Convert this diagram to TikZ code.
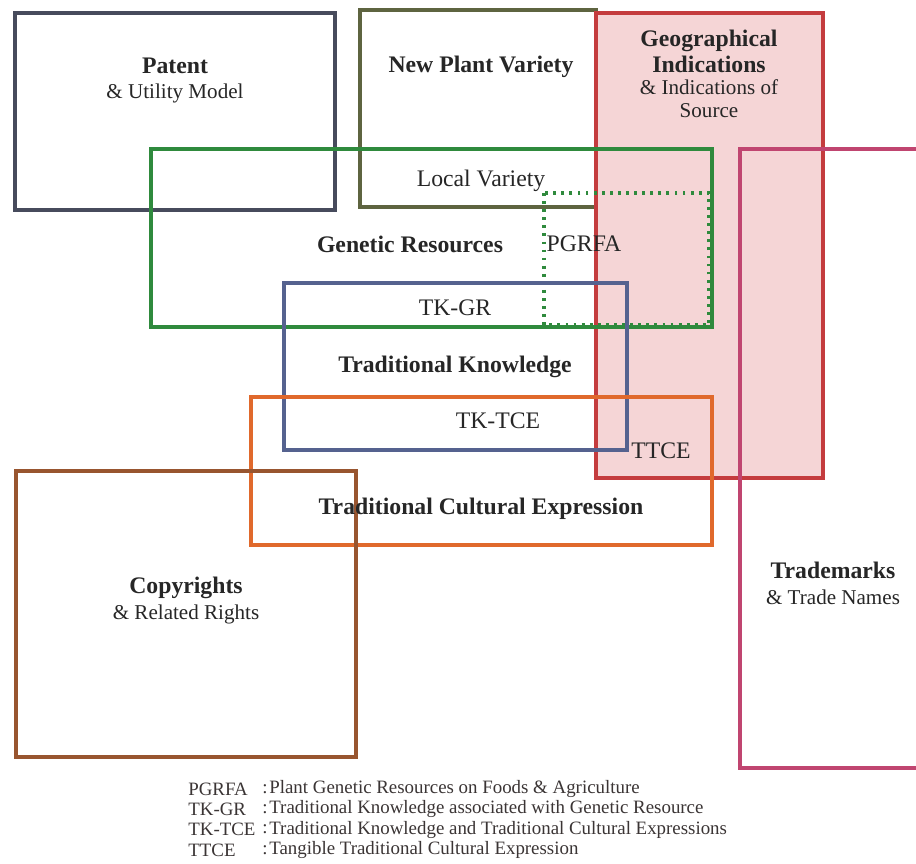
\documentclass[tikz,border=0pt]{standalone}
\usepackage{fontspec}
\setmainfont{Liberation Serif}
\definecolor{patentc}{HTML}{474B5C}
\definecolor{plantc}{HTML}{5E6440}
\definecolor{gic}{HTML}{C43C3E}
\definecolor{gifill}{HTML}{F5D5D6}
\definecolor{grc}{HTML}{2F8A3D}
\definecolor{tkc}{HTML}{55628F}
\definecolor{tcec}{HTML}{E0692C}
\definecolor{copyc}{HTML}{98552F}
\definecolor{trademc}{HTML}{C04570}
\definecolor{txt}{HTML}{262626}
\definecolor{legtxt}{HTML}{3B3535}
\newcommand{\subline}[1]{{\fontsize{12pt}{14.7pt}\selectfont #1}}
\begin{document}
\begin{tikzpicture}[x=0.02cm,y=-0.02cm,
    box/.style={line width=1.8pt},
    boxtitle/.style={font=\fontsize{13.5pt}{14.7pt}\selectfont, align=center, text=txt},
    legend/.style={font=\fontsize{10.75pt}{12pt}\selectfont, text=legtxt, anchor=west, inner sep=0pt}]
  \useasboundingbox[fill=white] (0,0) rectangle (916,863);
  % the shaded box goes first, the others are drawn over it
  \fill[gifill] (596,13) rectangle (823,478);
  \draw[box,patentc] (15,13) rectangle (335,210);
  \draw[box,plantc] (360,10) rectangle (596,207);
  \draw[box,gic] (596,13) rectangle (823,478);
  \draw[box,trademc] (740,149) rectangle (925,768);
  \draw[box,grc] (151,149) rectangle (712,327);
  \draw[box,grc,dash pattern=on 1.6pt off 3pt] (544,193) rectangle (709,325);
  \draw[box,tkc] (284,283) rectangle (627,450);
  \draw[box,tcec] (251,397) rectangle (712,545);
  \draw[box,copyc] (16,471) rectangle (356,757);
  % labels
  \node[boxtitle] (patent) at (175,80.5) {\textbf{Patent}\\\subline{\& Utility Model}};
  \node[boxtitle] (plant) at (481,67) {\textbf{New Plant Variety}};
  \node[boxtitle] (geo) at (709,74) {\textbf{Geographical}\\\textbf{Indications}\\[-1.7pt]\subline{\& Indications of}\\[-1.6pt]\subline{Source}};
  \node[boxtitle] (local) at (481,180.5) {Local Variety};
  \node[boxtitle] (genetic) at (410,244) {\textbf{Genetic Resources}};
  \node[boxtitle] (pgrfa) at (584,244) {PGRFA};
  \node[boxtitle] (tkgr) at (455,308) {TK-GR};
  \node[boxtitle] (tk) at (455,367) {\textbf{Traditional Knowledge}};
  \node[boxtitle] (tktce) at (498,421) {TK-TCE};
  \node[boxtitle] (ttce) at (661,451) {TTCE};
  \node[boxtitle] (tce) at (481,509) {\textbf{Traditional Cultural Expression}};
  \node[boxtitle] (copy) at (186,600.5) {\textbf{Copyrights}\\\subline{\& Related Rights}};
  \node[boxtitle] (trade) at (833,583) {\textbf{Trademarks}\\\subline{\& Trade Names}};
  % legend
  \foreach \abbr/\desc [count=\i] in {PGRFA/Plant Genetic Resources on Foods \& Agriculture,
      TK-GR/Traditional Knowledge associated with Genetic Resource,
      TK-TCE/Traditional Knowledge and Traditional Cultural Expressions,
      TTCE/Tangible Traditional Cultural Expression}
    {
    \node[legend] (abbr\i) at (188,{768.7+20.3*\i}) {\abbr};
    \node[legend] (colon\i) at (262,{768.7+20.3*\i}) {:};
    \node[legend] (desc\i) at (269,{768.7+20.3*\i}) {\desc};
    }
\end{tikzpicture}
\end{document}
